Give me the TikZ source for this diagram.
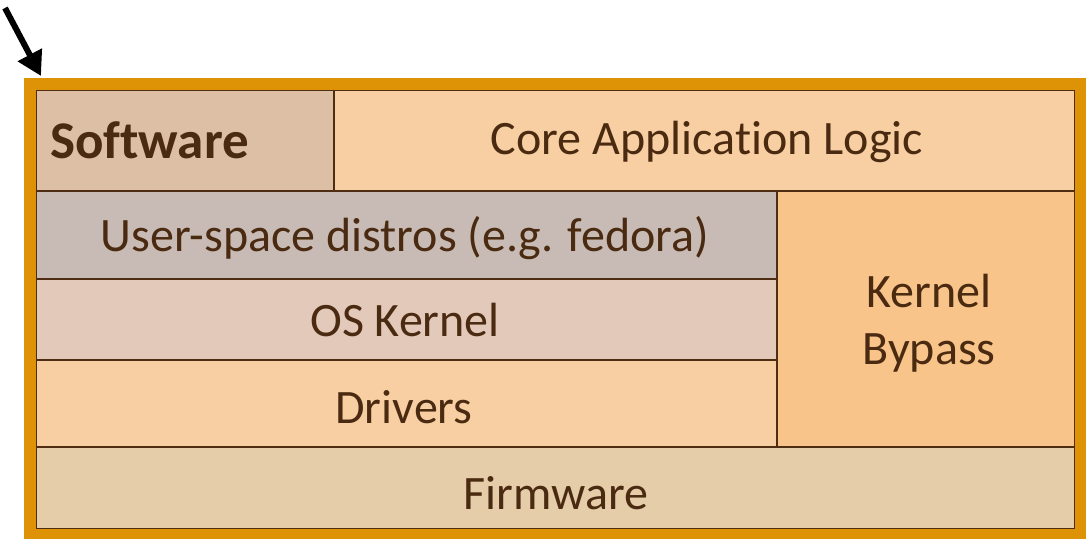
\documentclass[tikz,border=0pt]{standalone}
\usepackage{fontspec}
\setmainfont{Carlito}[Ligatures={NoCommon}]
\usetikzlibrary{arrows.meta}
\definecolor{frameor}{HTML}{DE9206}
\definecolor{edge}{HTML}{4F2D12}
\definecolor{txt}{HTML}{4A2A10}
\definecolor{cSoft}{HTML}{DDBFA6}
\definecolor{cCore}{HTML}{F8CFA2}
\definecolor{cUser}{HTML}{C8BBB5}
\definecolor{cOS}{HTML}{E3C9BA}
\definecolor{cDrv}{HTML}{F8CFA2}
\definecolor{cByp}{HTML}{F8C48A}
\definecolor{cFw}{HTML}{E4CDA8}
\tikzset{
  cell/.style={draw=edge, line width=2.4pt},
  lbl/.style={text=txt, font=\fontsize{48}{57}\selectfont, inner sep=0pt, align=center},
}
\begin{document}
\begin{tikzpicture}[x=1pt,y=-1pt]
\useasboundingbox (0,0) rectangle (1086,538);
% cells
\path[cell, fill=cSoft] (36,90) rectangle (334,191);
\path[cell, fill=cCore] (334,90) rectangle (1075,191);
\path[cell, fill=cUser] (36,191) rectangle (777,279);
\path[cell, fill=cOS] (36,279) rectangle (777,360);
\path[cell, fill=cDrv] (36,360) rectangle (777,447);
\path[cell, fill=cByp] (777,191) rectangle (1075,447);
\path[cell, fill=cFw] (36,447) rectangle (1075,529);
% frame
\draw[frameor, line width=12pt] (30,84) rectangle (1081,535);
% labels
\node[lbl, anchor=west, font=\fontsize{53}{60}\selectfont\bfseries] (soft) at (50,140) {Software};
\node[lbl] (core) at (707,142) {Core Application Logic};
\node[lbl] (user) at (405,238) {User-space distros (e.g. fedora)};
\node[lbl] (os) at (405,320) {OS Kernel};
\node[lbl] (drv) at (404,407) {Drivers};
\node[lbl] (byp) at (929,323) {Kernel\\Bypass};
\node[lbl] (fw) at (556,493) {Firmware};
% arrow
\coordinate (atail) at (5,8);
\coordinate (atip) at (41,76);
\draw[line width=6pt, -{Triangle[length=24pt,width=26pt]}] (atail) -- (atip);
\end{tikzpicture}
\end{document}
